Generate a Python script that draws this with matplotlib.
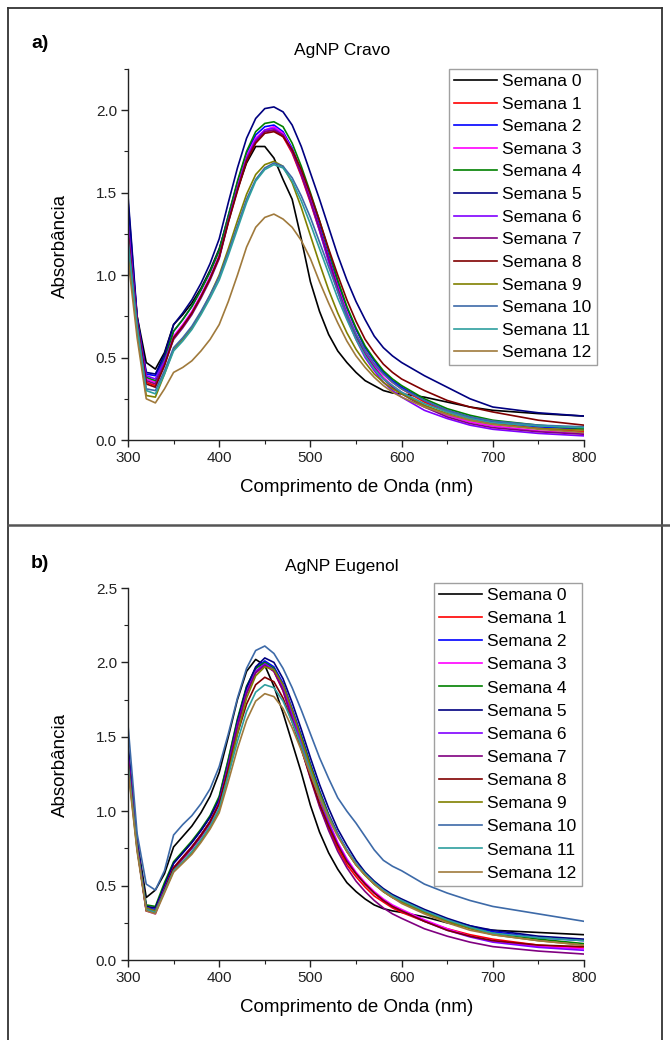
import matplotlib
matplotlib.use("Agg")
import matplotlib.pyplot as plt
from matplotlib.ticker import MultipleLocator, FormatStrFormatter
from matplotlib.lines import Line2D

plt.rcParams["font.family"] = ["Liberation Sans", "DejaVu Sans"]

# comprimento de onda (nm)
comprimento = [300, 310, 320, 330, 340, 350, 360, 370, 380, 390, 400,
               410, 420, 430, 440, 450, 460, 470, 480, 490, 500,
               510, 520, 530, 540, 550, 560, 570, 580, 590, 600,
               625, 650, 675, 700, 750, 800]

# a) AgNP Cravo
cravo_s0 = [1.35, 0.75, 0.47, 0.43, 0.53, 0.70, 0.76, 0.83, 0.92, 1.03, 1.16, 1.34, 1.52, 1.68, 1.78, 1.78, 1.71, 1.58, 1.46, 1.22, 0.96, 0.78, 0.64, 0.54, 0.47, 0.41, 0.36, 0.33, 0.30, 0.285, 0.28, 0.26, 0.23, 0.20, 0.18, 0.16, 0.145]
cravo_s1 = [1.25, 0.72, 0.35, 0.33, 0.46, 0.62, 0.69, 0.77, 0.87, 0.98, 1.11, 1.33, 1.53, 1.70, 1.81, 1.87, 1.88, 1.84, 1.74, 1.60, 1.44, 1.27, 1.09, 0.92, 0.77, 0.64, 0.54, 0.46, 0.40, 0.35, 0.31, 0.23, 0.17, 0.13, 0.10, 0.07, 0.05]
cravo_s2 = [1.45, 0.74, 0.40, 0.39, 0.50, 0.66, 0.73, 0.81, 0.91, 1.02, 1.15, 1.36, 1.56, 1.74, 1.85, 1.90, 1.91, 1.87, 1.77, 1.63, 1.47, 1.30, 1.12, 0.95, 0.80, 0.67, 0.56, 0.48, 0.41, 0.36, 0.32, 0.24, 0.18, 0.14, 0.11, 0.08, 0.065]
cravo_s3 = [1.28, 0.72, 0.37, 0.35, 0.47, 0.63, 0.70, 0.78, 0.88, 0.99, 1.12, 1.33, 1.54, 1.72, 1.83, 1.88, 1.90, 1.86, 1.76, 1.62, 1.46, 1.28, 1.10, 0.93, 0.77, 0.64, 0.53, 0.45, 0.38, 0.33, 0.29, 0.21, 0.15, 0.11, 0.085, 0.055, 0.04]
cravo_s4 = [1.30, 0.73, 0.38, 0.36, 0.49, 0.66, 0.73, 0.81, 0.91, 1.02, 1.15, 1.36, 1.57, 1.75, 1.87, 1.92, 1.93, 1.90, 1.80, 1.66, 1.50, 1.33, 1.15, 0.97, 0.81, 0.68, 0.57, 0.49, 0.42, 0.37, 0.33, 0.25, 0.19, 0.15, 0.12, 0.09, 0.07]
cravo_s5 = [1.48, 0.75, 0.41, 0.40, 0.52, 0.70, 0.77, 0.85, 0.95, 1.07, 1.22, 1.44, 1.65, 1.83, 1.95, 2.01, 2.02, 1.99, 1.91, 1.78, 1.62, 1.46, 1.29, 1.12, 0.97, 0.84, 0.73, 0.63, 0.56, 0.51, 0.47, 0.39, 0.32, 0.25, 0.20, 0.165, 0.145]
cravo_s6 = [1.32, 0.73, 0.39, 0.37, 0.48, 0.62, 0.69, 0.77, 0.87, 0.98, 1.11, 1.33, 1.53, 1.71, 1.82, 1.88, 1.89, 1.85, 1.75, 1.61, 1.45, 1.27, 1.08, 0.90, 0.74, 0.61, 0.50, 0.42, 0.35, 0.30, 0.26, 0.18, 0.13, 0.09, 0.065, 0.04, 0.025]
cravo_s7 = [1.27, 0.72, 0.36, 0.34, 0.46, 0.61, 0.68, 0.76, 0.86, 0.97, 1.10, 1.32, 1.52, 1.70, 1.81, 1.87, 1.88, 1.85, 1.75, 1.61, 1.45, 1.28, 1.10, 0.92, 0.76, 0.63, 0.52, 0.44, 0.37, 0.32, 0.28, 0.20, 0.14, 0.10, 0.075, 0.05, 0.035]
cravo_s8 = [1.24, 0.72, 0.34, 0.32, 0.45, 0.62, 0.69, 0.77, 0.87, 0.98, 1.11, 1.32, 1.51, 1.69, 1.80, 1.86, 1.87, 1.84, 1.76, 1.64, 1.49, 1.33, 1.16, 1.00, 0.85, 0.72, 0.61, 0.53, 0.46, 0.41, 0.37, 0.30, 0.24, 0.20, 0.17, 0.12, 0.09]
cravo_s9 = [1.15, 0.66, 0.27, 0.26, 0.40, 0.55, 0.61, 0.68, 0.77, 0.88, 1.00, 1.16, 1.33, 1.49, 1.61, 1.67, 1.69, 1.66, 1.56, 1.41, 1.24, 1.07, 0.91, 0.77, 0.65, 0.55, 0.47, 0.40, 0.35, 0.31, 0.28, 0.21, 0.16, 0.12, 0.095, 0.07, 0.06]
cravo_s10 = [1.22, 0.70, 0.31, 0.30, 0.42, 0.56, 0.62, 0.69, 0.78, 0.88, 0.99, 1.14, 1.30, 1.46, 1.58, 1.65, 1.68, 1.66, 1.59, 1.48, 1.35, 1.20, 1.05, 0.90, 0.76, 0.64, 0.54, 0.46, 0.40, 0.35, 0.31, 0.24, 0.18, 0.14, 0.115, 0.09, 0.08]
cravo_s11 = [1.20, 0.68, 0.30, 0.28, 0.40, 0.54, 0.60, 0.67, 0.76, 0.86, 0.97, 1.12, 1.28, 1.44, 1.57, 1.64, 1.67, 1.65, 1.57, 1.45, 1.31, 1.16, 1.01, 0.86, 0.73, 0.61, 0.51, 0.43, 0.37, 0.33, 0.29, 0.22, 0.17, 0.13, 0.105, 0.085, 0.075]
cravo_s12 = [1.10, 0.62, 0.25, 0.225, 0.31, 0.41, 0.44, 0.48, 0.54, 0.61, 0.70, 0.84, 1.00, 1.17, 1.29, 1.35, 1.37, 1.34, 1.29, 1.21, 1.10, 0.96, 0.83, 0.71, 0.60, 0.51, 0.44, 0.38, 0.33, 0.29, 0.26, 0.20, 0.155, 0.12, 0.095, 0.065, 0.045]

# b) AgNP Eugenol
eugenol_s0 = [1.40, 0.80, 0.42, 0.47, 0.58, 0.76, 0.83, 0.90, 0.99, 1.10, 1.26, 1.50, 1.75, 1.94, 2.02, 1.98, 1.84, 1.66, 1.46, 1.26, 1.04, 0.86, 0.72, 0.61, 0.52, 0.46, 0.41, 0.37, 0.345, 0.33, 0.32, 0.29, 0.25, 0.22, 0.20, 0.185, 0.17]
eugenol_s1 = [1.35, 0.76, 0.34, 0.32, 0.48, 0.62, 0.69, 0.76, 0.84, 0.93, 1.06, 1.31, 1.58, 1.80, 1.94, 1.99, 1.94, 1.81, 1.62, 1.43, 1.23, 1.04, 0.88, 0.75, 0.64, 0.56, 0.49, 0.43, 0.39, 0.35, 0.32, 0.26, 0.21, 0.17, 0.14, 0.10, 0.08]
eugenol_s2 = [1.42, 0.79, 0.35, 0.34, 0.50, 0.65, 0.72, 0.79, 0.87, 0.96, 1.09, 1.34, 1.61, 1.83, 1.96, 2.01, 1.97, 1.86, 1.69, 1.51, 1.32, 1.14, 0.98, 0.85, 0.74, 0.65, 0.58, 0.52, 0.47, 0.43, 0.40, 0.33, 0.27, 0.23, 0.19, 0.15, 0.13]
eugenol_s3 = [1.33, 0.75, 0.33, 0.31, 0.47, 0.61, 0.68, 0.75, 0.83, 0.92, 1.05, 1.29, 1.56, 1.79, 1.93, 1.98, 1.95, 1.84, 1.66, 1.47, 1.28, 1.09, 0.93, 0.79, 0.68, 0.59, 0.52, 0.46, 0.41, 0.37, 0.34, 0.27, 0.21, 0.16, 0.13, 0.09, 0.075]
eugenol_s4 = [1.40, 0.78, 0.37, 0.36, 0.52, 0.66, 0.73, 0.80, 0.88, 0.97, 1.10, 1.35, 1.62, 1.84, 1.96, 2.00, 1.96, 1.84, 1.67, 1.50, 1.31, 1.13, 0.97, 0.84, 0.73, 0.64, 0.57, 0.51, 0.46, 0.42, 0.39, 0.32, 0.26, 0.22, 0.18, 0.14, 0.11]
eugenol_s5 = [1.45, 0.80, 0.36, 0.35, 0.50, 0.65, 0.72, 0.79, 0.87, 0.96, 1.08, 1.32, 1.60, 1.83, 1.97, 2.03, 2.00, 1.89, 1.73, 1.55, 1.36, 1.18, 1.02, 0.88, 0.77, 0.67, 0.59, 0.53, 0.48, 0.44, 0.41, 0.34, 0.28, 0.23, 0.20, 0.16, 0.14]
eugenol_s6 = [1.38, 0.77, 0.34, 0.33, 0.48, 0.62, 0.69, 0.76, 0.84, 0.93, 1.06, 1.31, 1.58, 1.80, 1.94, 1.99, 1.95, 1.83, 1.65, 1.46, 1.27, 1.08, 0.92, 0.78, 0.67, 0.58, 0.51, 0.45, 0.40, 0.36, 0.33, 0.26, 0.20, 0.155, 0.12, 0.085, 0.065]
eugenol_s7 = [1.36, 0.76, 0.34, 0.32, 0.47, 0.61, 0.68, 0.75, 0.83, 0.92, 1.05, 1.30, 1.57, 1.79, 1.93, 1.98, 1.94, 1.81, 1.62, 1.42, 1.22, 1.03, 0.87, 0.73, 0.62, 0.53, 0.46, 0.40, 0.35, 0.31, 0.28, 0.21, 0.16, 0.12, 0.09, 0.06, 0.04]
eugenol_s8 = [1.34, 0.76, 0.33, 0.32, 0.47, 0.62, 0.69, 0.76, 0.84, 0.93, 1.05, 1.28, 1.52, 1.72, 1.85, 1.90, 1.87, 1.76, 1.60, 1.42, 1.23, 1.05, 0.90, 0.77, 0.66, 0.58, 0.51, 0.45, 0.40, 0.36, 0.33, 0.26, 0.20, 0.16, 0.13, 0.10, 0.09]
eugenol_s9 = [1.30, 0.74, 0.35, 0.33, 0.46, 0.60, 0.66, 0.72, 0.80, 0.89, 1.01, 1.25, 1.52, 1.76, 1.91, 1.97, 1.95, 1.85, 1.68, 1.49, 1.30, 1.12, 0.97, 0.84, 0.73, 0.64, 0.57, 0.51, 0.46, 0.42, 0.39, 0.32, 0.26, 0.21, 0.17, 0.13, 0.10]
eugenol_s10 = [1.58, 0.85, 0.51, 0.47, 0.60, 0.84, 0.91, 0.97, 1.05, 1.15, 1.30, 1.52, 1.76, 1.96, 2.08, 2.11, 2.06, 1.96, 1.83, 1.68, 1.52, 1.36, 1.22, 1.09, 1.00, 0.92, 0.83, 0.74, 0.67, 0.63, 0.60, 0.51, 0.45, 0.40, 0.36, 0.31, 0.26]
eugenol_s11 = [1.32, 0.75, 0.34, 0.32, 0.46, 0.60, 0.66, 0.73, 0.81, 0.90, 1.02, 1.24, 1.47, 1.67, 1.80, 1.85, 1.83, 1.74, 1.60, 1.44, 1.27, 1.10, 0.96, 0.84, 0.74, 0.65, 0.58, 0.52, 0.47, 0.43, 0.40, 0.33, 0.27, 0.22, 0.18, 0.15, 0.13]
eugenol_s12 = [1.28, 0.73, 0.33, 0.31, 0.45, 0.59, 0.65, 0.71, 0.79, 0.88, 0.99, 1.20, 1.42, 1.61, 1.74, 1.79, 1.77, 1.69, 1.56, 1.41, 1.25, 1.09, 0.95, 0.83, 0.73, 0.64, 0.57, 0.51, 0.46, 0.42, 0.38, 0.31, 0.25, 0.20, 0.17, 0.13, 0.10]

cravo = [cravo_s0, cravo_s1, cravo_s2, cravo_s3, cravo_s4, cravo_s5, cravo_s6,
         cravo_s7, cravo_s8, cravo_s9, cravo_s10, cravo_s11, cravo_s12]
eugenol = [eugenol_s0, eugenol_s1, eugenol_s2, eugenol_s3, eugenol_s4, eugenol_s5, eugenol_s6,
           eugenol_s7, eugenol_s8, eugenol_s9, eugenol_s10, eugenol_s11, eugenol_s12]

rotulos = ["Semana %d" % i for i in range(13)]
# cores do Origin (mais ou menos)
cores = ["#000000", "#ff0000", "#0000ff", "#ff00ff", "#008000", "#000080", "#8000ff",
         "#800080", "#800000", "#808000", "#3d6aa8", "#2e9e9e", "#a07a3c"]

W, H = 670, 1040
fig = plt.figure(figsize=(W / 100, H / 100), dpi=100)


def fx(px):
    return px / W


def fy(py):
    return 1 - py / H


def painel(series, ax_box, ymax, titulo, letra, leg_xy, leg_sp, title_y, letra_y, xlab_y, ylab_y):
    x0, y0, x1, y1 = ax_box  # pixels (esq, topo, dir, base)
    ax = fig.add_axes([fx(x0), fy(y1), fx(x1 - x0), (y1 - y0) / H])
    for y, cor, nome in zip(series, cores, rotulos):
        ax.plot(comprimento, y, color=cor, lw=1.2, label=nome)
    ax.set_xlim(300, 800)
    ax.set_ylim(0, ymax)
    ax.xaxis.set_major_locator(MultipleLocator(100))
    ax.xaxis.set_minor_locator(MultipleLocator(50))
    ax.yaxis.set_major_locator(MultipleLocator(0.5))
    ax.yaxis.set_minor_locator(MultipleLocator(0.25))
    ax.yaxis.set_major_formatter(FormatStrFormatter("%.1f"))
    ax.spines["top"].set_visible(False)
    ax.spines["right"].set_visible(False)
    for s in ("left", "bottom"):
        ax.spines[s].set_linewidth(1.0)
        ax.spines[s].set_color("#222222")
    ax.tick_params(which="major", direction="out", length=5, width=1, labelsize=11,
                   colors="#222222", pad=3)
    ax.tick_params(which="minor", direction="out", length=3, width=0.8, colors="#222222")
    ax.patch.set_alpha(0)

    leg = ax.legend(loc="upper left", bbox_to_anchor=(fx(leg_xy[0]), fy(leg_xy[1])),
                    bbox_transform=fig.transFigure, fontsize=12.5, frameon=True,
                    fancybox=False, edgecolor="#888888", borderaxespad=0,
                    handlelength=2.5, handletextpad=0.3, labelspacing=leg_sp,
                    borderpad=0.28)
    leg.get_frame().set_linewidth(1.0)

    fig.text(fx(342), fy(title_y), titulo, ha="center", va="center", fontsize=12.5)
    fig.text(fx(40), fy(letra_y), letra, ha="center", va="center", fontsize=14,
             fontweight="bold")
    fig.text(fx(357), fy(xlab_y), "Comprimento de Onda (nm)", ha="center", va="center",
             fontsize=13.5)
    fig.text(fx(60), fy(ylab_y), "Absorbância", ha="center", va="center",
             rotation=90, fontsize=13.5)
    return ax


painel(cravo, (128, 69, 584, 440), 2.25, "AgNP Cravo", "a)", (449, 69), 0.43,
       51, 44, 487, 246)
painel(eugenol, (128, 588, 584, 960), 2.5, "AgNP Eugenol", "b)", (434, 583), 0.46,
       567, 563, 1007, 765)

# moldura e separação entre os painéis
moldura = dict(transform=fig.transFigure, lw=1.3, color="#333333")
fig.add_artist(Line2D([fx(8), fx(662)], [fy(8), fy(8)], **moldura))
fig.add_artist(Line2D([fx(8), fx(8)], [fy(8), fy(1040)], **moldura))
fig.add_artist(Line2D([fx(662), fx(662)], [fy(8), fy(1040)], **moldura))
fig.add_artist(Line2D([fx(8), 1], [fy(525), fy(525)], transform=fig.transFigure,
                      lw=1.8, color="#555555"))

fig.savefig("out.png", dpi=100)
